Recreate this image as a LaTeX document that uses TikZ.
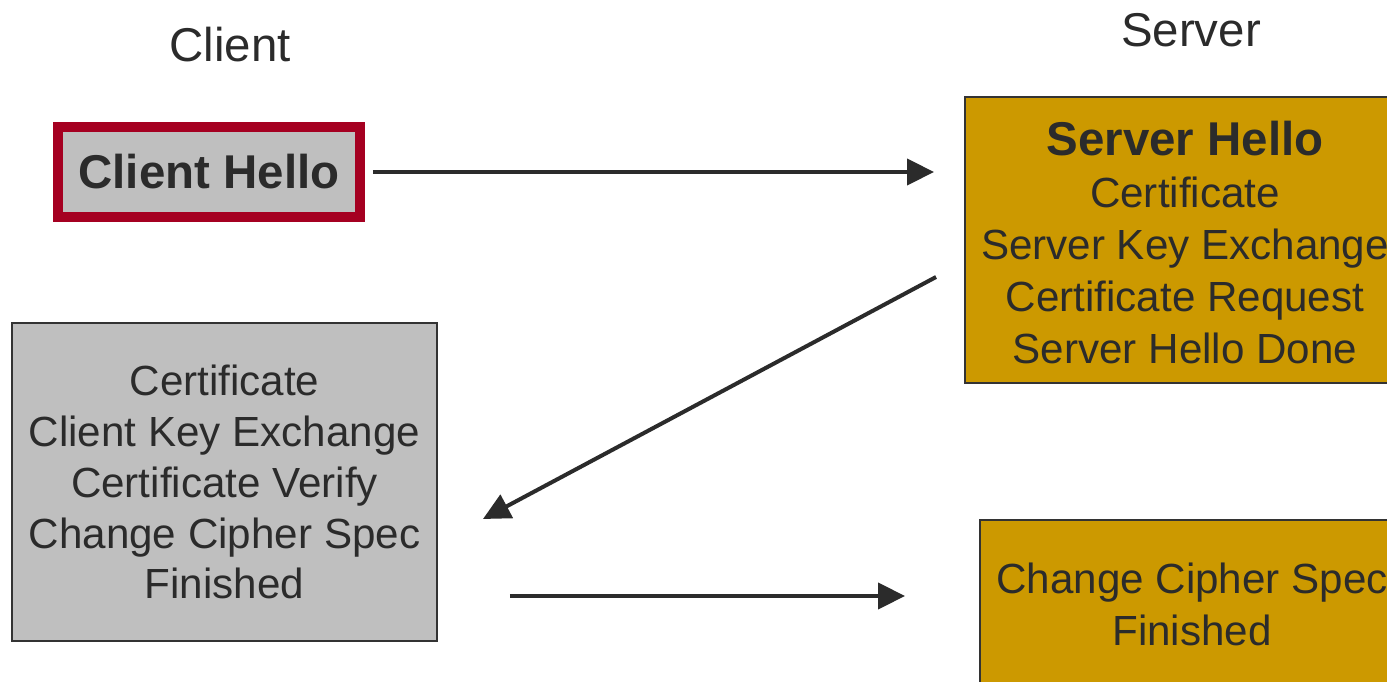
\documentclass[tikz,border=0pt]{standalone}
\usepackage{fontspec}
\setmainfont{Liberation Sans}
\usepackage{xcolor}
\definecolor{clientRed}{HTML}{A50021}
\definecolor{boxGray}{HTML}{BFBFBF}
\definecolor{serverGold}{HTML}{CC9900}
\definecolor{edgeGray}{HTML}{333333}
\definecolor{darkText}{HTML}{2B2B2B}
\usetikzlibrary{arrows.meta,calc}
\tikzset{
    % Base style for all message boxes
    msg base/.style={
        rectangle,
        align=center,
        text=darkText,
        inner sep=0pt,
        outer sep=0pt,
        font=\fontsize{24}{29}\selectfont,
    },
    % Client side boxes - plain gray
    client box/.style={
        msg base,
        draw=edgeGray,
        line width=1.2pt,
        fill=boxGray,
    },
    % First message - thick red frame
    hello box/.style={
        client box,
        draw=clientRed,
        line width=5.7pt,
        font=\fontsize{27}{32}\selectfont\bfseries,
    },
    % Server side boxes - gold fill
    server box/.style={
        msg base,
        draw=edgeGray,
        line width=1.2pt,
        fill=serverGold,
        font=\fontsize{24}{29.6}\selectfont,
    },
    % Column titles
    side label/.style={
        text=darkText,
        inner sep=0pt,
        font=\fontsize{27}{32}\selectfont,
    },
    % Message arrow
    arrow/.style={
        -{Triangle[length=0.54cm, width=0.52cm]},
        line width=0.08cm,
        draw=darkText,
    },
}

\begin{document}
\begin{tikzpicture}[x=0.02cm, y=-0.02cm]
    \useasboundingbox (0,0) rectangle (1387,682);
    \clip (0,0) rectangle (1387,682);

    \node (client) [side label] at (230,45) {Client};
    \node (server) [side label] at (1191,30) {Server};

    \node (hello) [hello box, minimum width=6.04cm, minimum height=1.8cm] at (209,172) {Client Hello};
    \node (srv) [server box, minimum width=8.8cm, minimum height=5.72cm] at (1185,240)
        {};
    \node (srvtext) [msg base, font=\fontsize{24}{29.6}\selectfont] at (1185,243)
        {{\fontsize{27}{32}\selectfont\bfseries Server Hello}\\ Certificate\\ Server Key Exchange\\ Certificate Request\\ Server Hello Done};
    \node (cert) [client box, minimum width=8.5cm, minimum height=6.36cm] at (224.5,482)
        {Certificate\\ Client Key Exchange\\ Certificate Verify\\ Change Cipher Spec\\ Finished};
    \node (fin) [server box, minimum width=8.48cm, minimum height=3.36cm] at (1192,604)
        {Change Cipher Spec\\ Finished};

    \draw [arrow] ($(hello.east)+(13,0)$) -- ($(srv.west |- hello.east)+(-31,0)$);
    \draw [arrow] ($(srv.west)+(-29,37)$) -- ($(cert.east)+(46,37)$);
    \draw [arrow] ($(cert.east)+(73,114)$) -- ($(fin.west)+(-75,-8)$);
\end{tikzpicture}
\end{document}
